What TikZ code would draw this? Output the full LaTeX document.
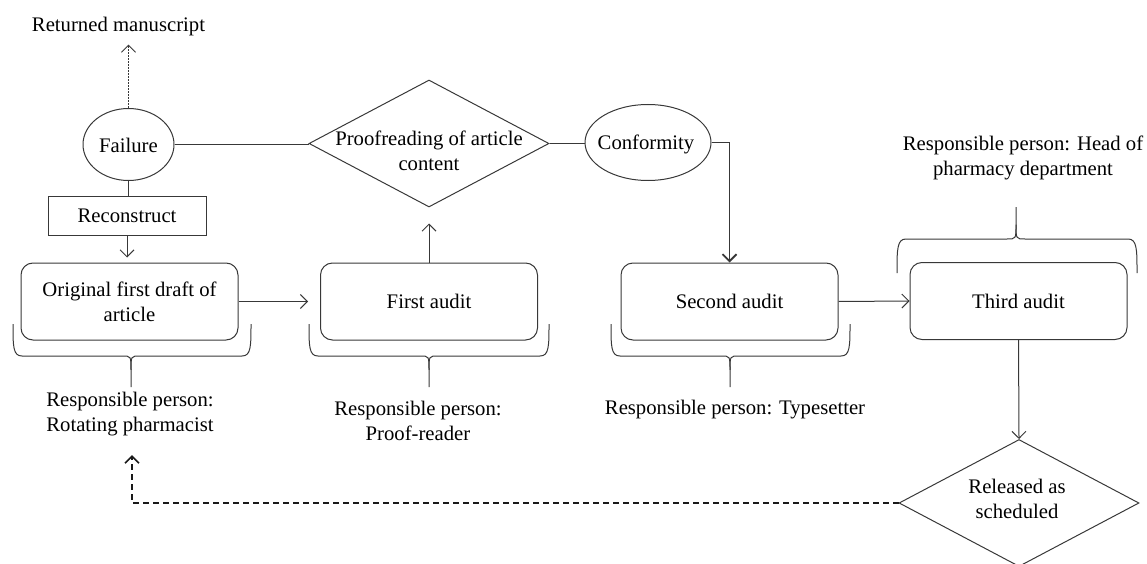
\documentclass[tikz,border=0pt]{standalone}
\usepackage{fontspec}
\setmainfont{Liberation Serif}
\usetikzlibrary{shapes.geometric,arrows.meta,calc}
\newcommand\BraceShape[6]{% x1 x2 xt yend yh ytip
  \draw[bracestyle] (#1,#4) .. controls ($(#1,#4)!0.7!(#1,#5)$) and (#1,#5) .. ({#1+9},#5) -- ({#3-9},#5)
     .. controls (#3,#5) and (#3,#5) .. ($(#3,#5)!0.45!(#3,#6)$) -- (#3,#6);
  \draw[bracestyle] (#2,#4) .. controls ($(#2,#4)!0.7!(#2,#5)$) and (#2,#5) .. ({#2-9},#5) -- ({#3+9},#5)
     .. controls (#3,#5) and (#3,#5) .. ($(#3,#5)!0.45!(#3,#6)$);
}
\begin{document}
\begin{tikzpicture}[x=1pt,y=-1pt,
  every node/.style={font=\fontsize{20.7pt}{25pt}\selectfont, text=black},
  ln/.style={draw=black!78, line width=1pt},
  bracestyle/.style={draw=black!78, line width=1pt},
  arrowV/.style={-{Straight Barb[length=7pt,width=14pt]}},
  rbox/.style={ln, rectangle, rounded corners=12pt, minimum width=217pt, minimum height=77pt, align=center, inner sep=0pt},
  sbox/.style={ln, rectangle, minimum width=158pt, minimum height=39pt, inner sep=0pt},
  dia/.style={ln, diamond, minimum width=240pt, minimum height=127pt, inner sep=0pt},
  ell/.style={ln, ellipse, inner sep=0pt},
  txt/.style={align=center, inner sep=0pt}
]
\useasboundingbox (0,0) rectangle (1147,564);

% nodes
\node[txt] (ret) at (118.5,27) {Returned manuscript};
\node[ell, minimum width=91pt, minimum height=72pt] (fail) at (128.5,144.5) {};
\node[txt] (failT) at (128.5,145) {Failure};
\node[dia] (proof) at (429,143.5) {};
\node[txt] (proofT) at (429,151) {Proofreading of article\\content};
\node[ell, minimum width=126pt, minimum height=76pt] (conf) at (648,142.5) {};
\node[txt] (confT) at (646,144) {Conformity};
\node[sbox] (recon) at (127,215.5) {Reconstruct};

\node[rbox] (orig) at (129.5,301.5) {Original first draft of\\article};
\node[rbox] (first) at (429,301.5) {First audit};
\node[rbox] (second) at (729.5,301.5) {Second audit};
\node[rbox] (third) at (1018.5,301) {Third audit};

\node[dia] (rel) at (1019,503) {};
\node[txt] (relT) at (1017,499) {Released as\\scheduled};
\coordinate (dashend) at (132,455);

% responsible labels
\node[txt] (resp1) at (130,414.5) {Responsible person:\\Rotating pharmacist};
\node[txt] (resp2) at (418,421) {Responsible person:\\Proof-reader};
\node[txt] (resp3) at (735,410) {Responsible person: Typesetter};
\node[txt] (resp4) at (1023,158) {Responsible person: Head of\\pharmacy department};

% braces
\BraceShape{13}{251}{131}{324}{356}{387}
\BraceShape{309}{549}{429}{324}{356}{387}
\BraceShape{611}{850}{730}{324}{356}{387}
\BraceShape{897}{1137}{1016}{273}{239}{207}

% connectors
\draw[ln, dash pattern=on 1.6pt off 1.4pt, line width=1pt, arrowV, shorten >=8pt] (fail.north) -- (fail.north |- ret.south);
\draw[ln] (fail.east) -- (fail.east -| proof.west);
\draw[ln] (fail.south) -- (fail.south |- recon.north);
\draw[ln, arrowV, shorten >=5pt] (recon.south) -- (recon.south |- orig.north);
\draw[ln, arrowV, shorten >=12pt] (orig.east) -- (first.west);
\draw[ln, arrowV, shorten >=16pt] (first.north) -- (proof.south);
\draw[ln, line width=1.6pt] (proof.east) -- (proof.east -| conf.west);
\draw[ln, line width=1.8pt, arrowV] (conf.east) -| (second.north);
\draw[ln, arrowV] (second.east) -- (third.west);
\draw[ln, arrowV] (third.south) -- (rel.north);
\draw[ln, line width=1.7pt, draw=black!90, dash pattern=on 6pt off 4pt, arrowV] (rel.west) -| (dashend);
\end{tikzpicture}
\end{document}
